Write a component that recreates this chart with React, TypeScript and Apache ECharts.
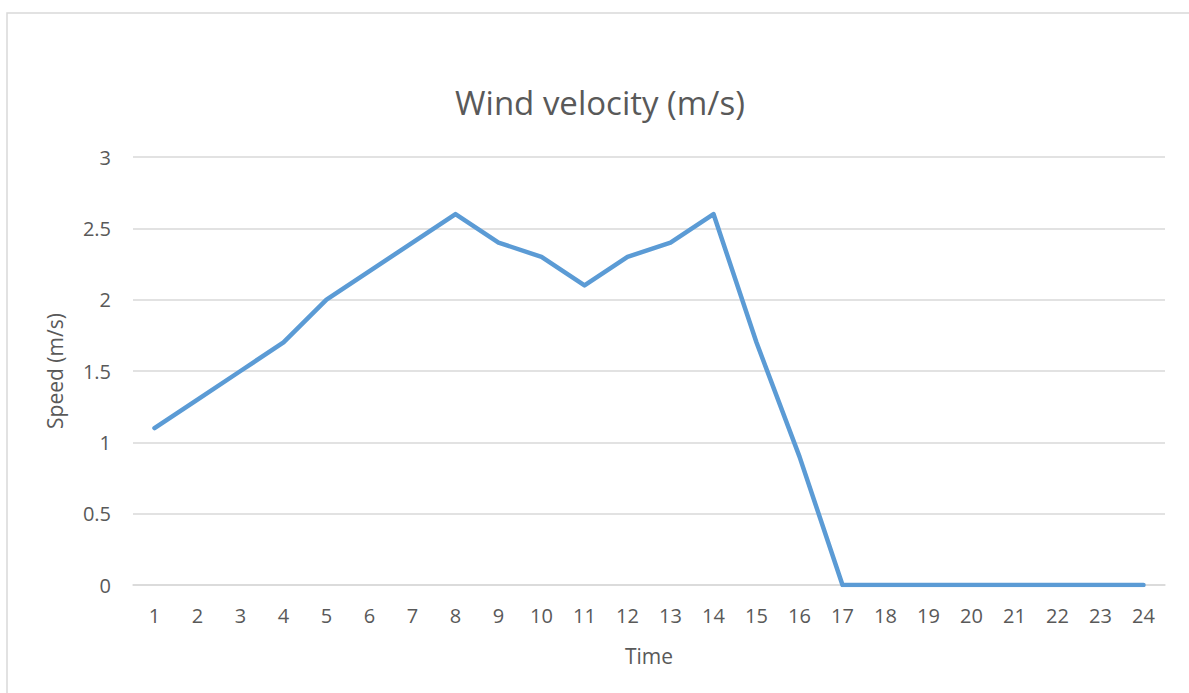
import React, { useEffect, useRef } from "react";
import * as echarts from "echarts";

const categories: string[] = Array.from({ length: 24 }, (_, i) => String(i + 1));
const speed: number[] = [1.1, 1.3, 1.5, 1.7, 2.0, 2.2, 2.4, 2.6, 2.4, 2.3, 2.1, 2.3, 2.4, 2.6, 1.7, 0.9, 0, 0, 0, 0, 0, 0, 0, 0];
const titleText = "Wind velocity (m/s)";
const xName = "Time";
const yName = "Speed (m/s)";

const FONT = "'Open Sans', 'Liberation Sans', sans-serif";
const TEXT = "#595959";
const GRID = "#d9d9d9";

export default function App() {
  const ref = useRef<HTMLDivElement>(null);
  useEffect(() => {
    if (!ref.current) return;
    const chart = echarts.init(ref.current, undefined, { renderer: "svg" });
    chart.setOption({
      animation: false,
      backgroundColor: "#ffffff",
      textStyle: { fontFamily: FONT, color: TEXT },
      graphic: [
        {
          type: "rect",
          shape: { x: 7, y: 13, width: 1240, height: 740 },
          style: { fill: "none", stroke: "#d9d9d9", lineWidth: 1.5 },
          silent: true,
        },
        {
          type: "text",
          x: 600,
          y: 102,
          style: {
            text: titleText,
            font: `33px ${FONT}`,
            fill: TEXT,
            textAlign: "center",
            textVerticalAlign: "middle",
          },
        },
      ],
      grid: { left: 133, right: 24, top: 157, bottom: 108, containLabel: false },
      xAxis: {
        type: "category",
        data: categories,
        boundaryGap: true,
        name: xName,
        nameLocation: "middle",
        nameGap: 60,
        nameTextStyle: { fontSize: 21, color: TEXT, fontFamily: FONT },
        axisLine: { show: true, lineStyle: { color: GRID, width: 1.5 } },
        axisTick: { show: false },
        axisLabel: { fontSize: 20, color: TEXT, fontFamily: FONT, margin: 20, interval: 0 },
        splitLine: { show: false },
      },
      yAxis: {
        type: "value",
        min: 0,
        max: 3,
        interval: 0.5,
        name: yName,
        nameLocation: "middle",
        nameGap: 68,
        nameTextStyle: { fontSize: 21, color: TEXT, fontFamily: FONT },
        axisLine: { show: false },
        axisTick: { show: false },
        axisLabel: { fontSize: 20, color: TEXT, fontFamily: FONT, margin: 22 },
        splitLine: { show: true, lineStyle: { color: GRID, width: 1.5 } },
      },
      series: [
        {
          type: "line",
          data: speed,
          showSymbol: false,
          symbol: "none",
          lineStyle: { color: "#5B9BD5", width: 4.5, cap: "round", join: "round" },
          itemStyle: { color: "#5B9BD5" },
        },
      ],
    });
    return () => chart.dispose();
  }, []);
  return (
    <div
      ref={ref}
      style={{ position: "fixed", left: 0, top: 0, width: 1189, height: 693, background: "#fff" }}
    />
  );
}
